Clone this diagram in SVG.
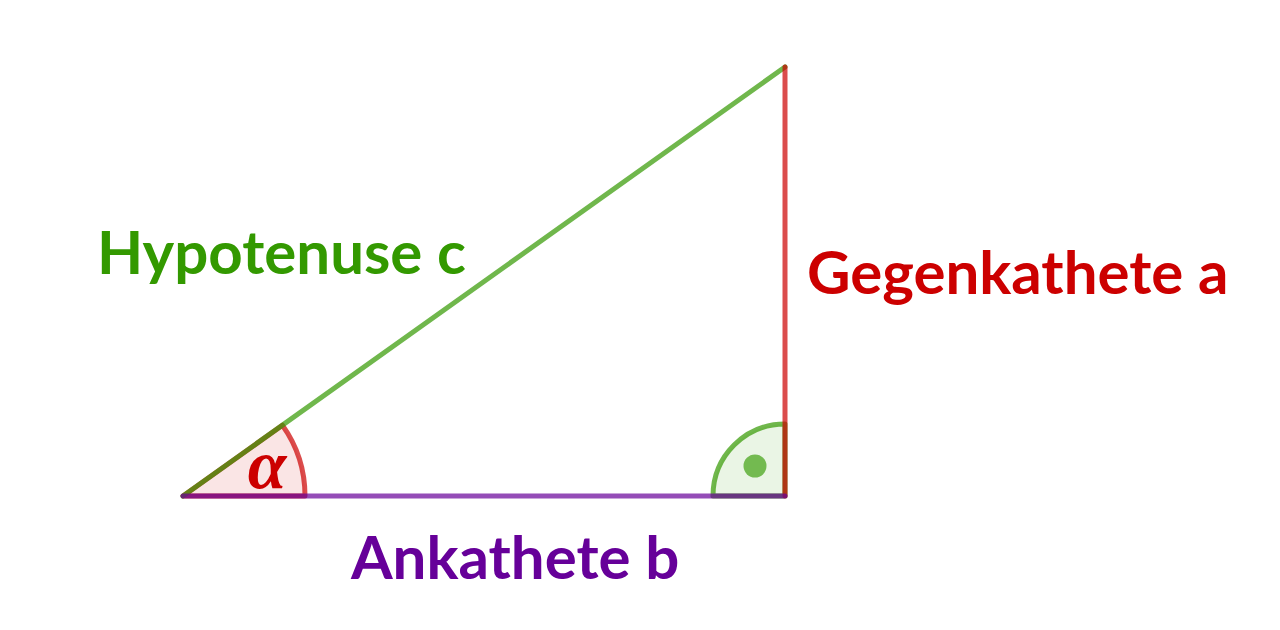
<svg xmlns="http://www.w3.org/2000/svg" width="1280" height="630" viewBox="0 0 1280 630">
<style>
.lbl{font-family:Lato,"Open Sans","Liberation Sans",sans-serif;font-weight:bold;font-size:60px}
.ln{stroke-width:5;stroke-linecap:round;stroke-linejoin:round;stroke-opacity:0.7;fill:none}
</style>
<rect width="1280" height="630" fill="#ffffff"/>
<g id="angle-alpha">
<path d="M183,496 L305,496 A122,122 0 0 0 282.4,425.2 Z" stroke="#cc0000" class="ln" style="fill:#cc0000;fill-opacity:0.1"/>
</g>
<g id="right-angle">
<path d="M785,496 L713,496 A72,72 0 0 1 785,424 Z" stroke="#339900" class="ln" style="fill:#339900;fill-opacity:0.1"/>
<circle cx="755" cy="466" r="11.5" fill="#339900" fill-opacity="0.65"/>
</g>
<g id="connectors">
<line id="hypotenuse" x1="183" y1="496" x2="785" y2="67" stroke="#339900" class="ln"/>
<line id="gegenkathete" x1="785" y1="67" x2="785" y2="496" stroke="#cc0000" class="ln"/>
<line id="ankathete" x1="183" y1="496" x2="785" y2="496" stroke="#660099" class="ln"/>
</g>
<g id="labels">
<text class="lbl" x="97" y="274" fill="#339900">Hypotenuse c</text>
<text class="lbl" x="807" y="294" fill="#cc0000">Gegenkathete a</text>
<text class="lbl" x="351" y="579" fill="#660099">Ankathete b</text>
<text x="267" y="488" text-anchor="middle" fill="#cc0000" style="font-family:'Liberation Serif','DejaVu Serif',serif;font-style:italic;font-weight:bold;font-size:70px">α</text>
</g>
</svg>
